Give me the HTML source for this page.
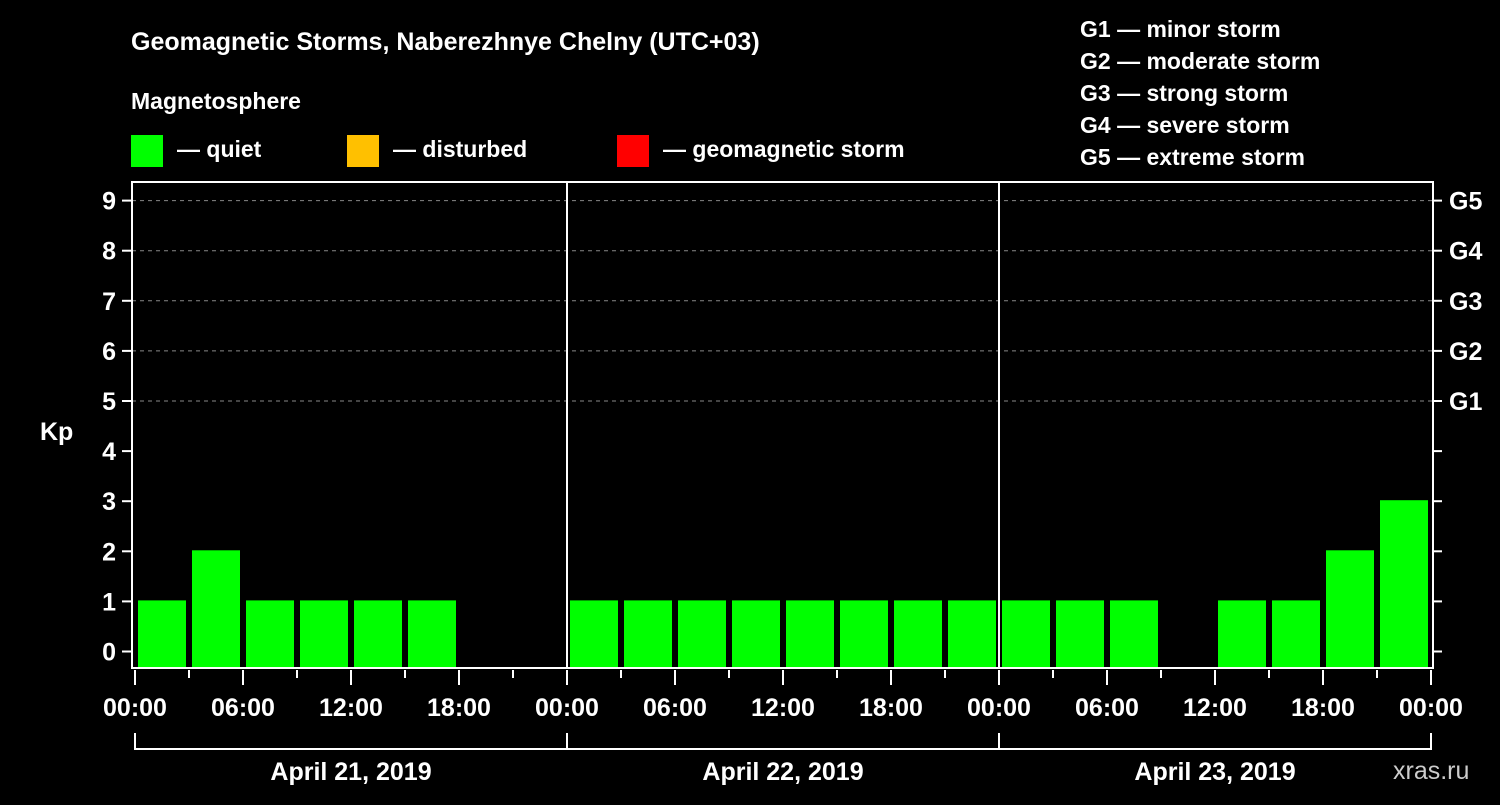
<!DOCTYPE html>
<html><head><meta charset="utf-8"><style>
body{margin:0;background:#000;}
svg text{font-family:"Liberation Sans",Arial,sans-serif;font-weight:bold;fill:#fff;}
</style></head><body>
<svg id="c" width="1500" height="800" viewBox="0 0 1500 800" xmlns="http://www.w3.org/2000/svg">
<rect width="1500" height="800" fill="#000"/>
<text x="131" y="50" font-size="25">Geomagnetic Storms, Naberezhnye Chelny (UTC+03)</text>
<text x="131" y="109" font-size="23">Magnetosphere</text>
<g><rect x="131" y="135" width="32" height="32" fill="#00ff00"/><text x="177" y="157" font-size="23">— quiet</text></g>
<g><rect x="347" y="135" width="32" height="32" fill="#ffc000"/><text x="393" y="157" font-size="23">— disturbed</text></g>
<g><rect x="617" y="135" width="32" height="32" fill="#ff0000"/><text x="663" y="157" font-size="23">— geomagnetic storm</text></g>
<g font-size="23">
<text x="1080" y="37">G1 — minor storm</text>
<text x="1080" y="69">G2 — moderate storm</text>
<text x="1080" y="101">G3 — strong storm</text>
<text x="1080" y="133">G4 — severe storm</text>
<text x="1080" y="165">G5 — extreme storm</text>
</g>
<text x="40" y="440" font-size="25">Kp</text>
<text x="1393" y="779" font-size="25" fill="#ccc" style="fill:#ccc;font-weight:normal">xras.ru</text>
<g id="grid"></g><g id="bars"></g><g id="axes"></g>
</svg>
<script>
const days = ["April 21, 2019","April 22, 2019","April 23, 2019"];
const hourLabels = ["00:00","06:00","12:00","18:00"];
const kpTicks = [0,1,2,3,4,5,6,7,8,9];
const gLabels = ["G1","G2","G3","G4","G5"];
const kpDay1 = [1,2,1,1,1,1,null,null];
const kpDay2 = [1,1,1,1,1,1,1,1];
const kpDay3 = [1,1,1,null,1,1,2,3];
const NS="http://www.w3.org/2000/svg";
const L=132,R=1433,T=182,B=668,X0=135,DAYW=432;
const y=v=>651.5-v*50.1;
const x=h=>X0+h*(DAYW/24);
function el(t,a,p){const e=document.createElementNS(NS,t);for(const k in a)e.setAttribute(k,a[k]);document.getElementById(p).appendChild(e);return e;}
// grid
for(let v=5;v<=9;v++){const g=el('line',{x1:L,x2:R,y1:y(v),y2:y(v),stroke:'#888','stroke-dasharray':'4,4','stroke-width':1},'grid');
}
// bars
const all=[kpDay1,kpDay2,kpDay3];
all.forEach((d,di)=>d.forEach((v,i)=>{if(v==null)return;const h=di*24+i*3;
const r=el('rect',{x:x(h)+3,y:y(v)-1,width:48,height:B-1-(y(v)-1),fill:v>=5?'#ff0000':(v>=4?'#ffc000':'#00ff00')},'bars');
}));
// frame
const f=el('rect',{x:L,y:T,width:R-L,height:B-T,fill:'none',stroke:'#fff','stroke-width':2},'axes');

for(let d=1;d<3;d++){const s=el('line',{x1:x(d*24),x2:x(d*24),y1:T,y2:B,stroke:'#fff','stroke-width':2},'axes');
}
kpTicks.forEach(v=>{el('line',{x1:122,x2:L,y1:y(v),y2:y(v),stroke:'#fff','stroke-width':2},'axes');
el('line',{x1:R,x2:R+9,y1:y(v),y2:y(v),stroke:'#fff','stroke-width':2},'axes');
const t=el('text',{x:116,y:y(v)+9,'font-size':25,'text-anchor':'end'},'axes');t.textContent=v;
});
gLabels.forEach((g,i)=>{const t=el('text',{x:1449,y:y(5+i)+9,'font-size':25},'axes');t.textContent=g;
});
for(let h=0;h<=72;h+=3){el('line',{x1:x(h),x2:x(h),y1:670,y2:h%6==0?685:678,stroke:'#fff','stroke-width':2},'axes');}
for(let d=0;d<=3;d++){hourLabels.forEach((lab,i)=>{if(d==3&&i>0)return;
const t=el('text',{x:x(d*24+i*6),y:716,'font-size':25,'text-anchor':'middle'},'axes');t.textContent=lab;
});}
el('line',{x1:x(0),x2:x(72),y1:749,y2:749,stroke:'#fff','stroke-width':2},'axes');
for(let d=0;d<=3;d++)el('line',{x1:x(d*24),x2:x(d*24),y1:733,y2:750,stroke:'#fff','stroke-width':2},'axes');
days.forEach((dl,d)=>{const t=el('text',{x:x(d*24+12),y:780,'font-size':25,'text-anchor':'middle'},'axes');t.textContent=dl;
});
</script>
</body></html>
